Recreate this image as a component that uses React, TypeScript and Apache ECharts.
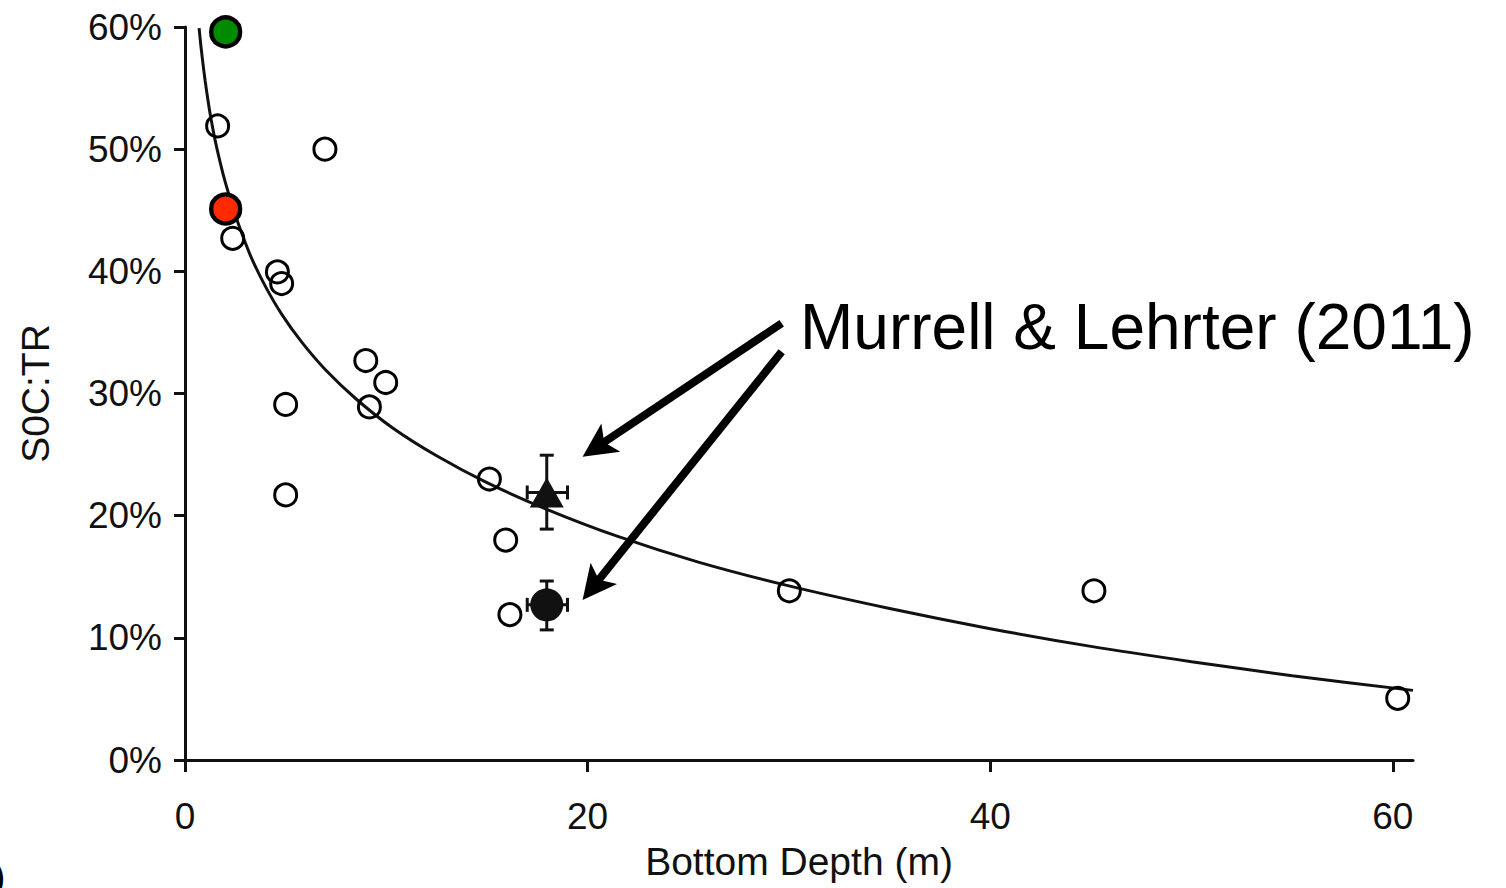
import React, { useEffect, useRef } from "react";
import * as echarts from "echarts";

// Open circles (Bottom Depth m, SOC:TR %)
const openX = [1.62, 6.95, 2.37, 4.59, 4.8, 8.98, 9.97, 5.0, 9.16, 5.0, 15.12, 15.93, 16.14, 30.02, 45.15, 60.24];
const openY = [51.9, 50.0, 42.7, 39.95, 39.0, 32.7, 30.9, 29.1, 28.9, 21.7, 23.0, 18.0, 11.9, 13.85, 13.85, 5.05];

// Highlighted points
const greenPoint = [2.02, 59.6];
const redPoint = [2.02, 45.1];

// Murrell & Lehrter (2011): [x, y, xLow, xHigh, yLow, yHigh]
const murrellTriangle = [17.97, 21.9, 17.0, 19.0, 18.9, 24.95];
const murrellCircle = [17.97, 12.7, 17.0, 19.0, 10.65, 14.65];

// Fitted curve
const curveX = [0.7, 0.8, 0.9, 1.0, 1.15, 1.3, 1.5, 1.75, 2.0, 2.4, 2.8, 3.3, 4.0, 4.8, 5.8, 7.0, 8.5, 10.3, 12.5, 15.0, 18.0, 21.5, 25.5, 30, 35, 40, 45, 50, 55, 61];
const curveY = [59.9, 58.3, 56.9, 55.6, 53.9, 52.4, 50.7, 48.9, 47.3, 45.1, 43.2, 41.1, 38.75, 36.5, 34.2, 31.9, 29.55, 27.2, 24.9, 22.7, 20.5, 18.3, 16.2, 14.25, 12.4, 10.75, 9.3, 8.05, 6.9, 5.7];

// Annotation arrows: [xFrom, yFrom, xTo, yTo]
const arrows = [
  [29.64, 35.75, 19.75, 24.83],
  [29.64, 33.42, 19.75, 13.1],
];

const xTicks = [0, 20, 40, 60];
const annotation = "Murrell & Lehrter (2011)";

export default function App() {
  const ref = useRef<HTMLDivElement>(null);

  useEffect(() => {
    const chart = echarts.init(ref.current!, null, { renderer: "svg" });
    const ink = "#111111";
    const font = '"Liberation Sans", Arial, Helvetica, sans-serif';

    const errorBarItem = (params: any, api: any) => {
      const x = api.value(0);
      const y = api.value(1);
      const top = api.coord([x, api.value(5)]);
      const bot = api.coord([x, api.value(4)]);
      const left = api.coord([api.value(2), y]);
      const right = api.coord([api.value(3), y]);
      const cap = 7;
      const style = { stroke: ink, lineWidth: 3 };
      return {
        type: "group",
        children: [
          { type: "line", shape: { x1: top[0], y1: top[1], x2: bot[0], y2: bot[1] }, style },
          { type: "line", shape: { x1: top[0] - cap, y1: top[1], x2: top[0] + cap, y2: top[1] }, style },
          { type: "line", shape: { x1: bot[0] - cap, y1: bot[1], x2: bot[0] + cap, y2: bot[1] }, style },
          { type: "line", shape: { x1: left[0], y1: left[1], x2: right[0], y2: right[1] }, style },
          { type: "line", shape: { x1: left[0], y1: left[1] - cap, x2: left[0], y2: left[1] + cap }, style },
          { type: "line", shape: { x1: right[0], y1: right[1] - cap, x2: right[0], y2: right[1] + cap }, style },
        ],
      };
    };

    const arrowItem = (params: any, api: any) => {
      const p1 = api.coord([api.value(0), api.value(1)]);
      const p2 = api.coord([api.value(2), api.value(3)]);
      const dx = p2[0] - p1[0];
      const dy = p2[1] - p1[1];
      const len = Math.sqrt(dx * dx + dy * dy);
      const ux = dx / len;
      const uy = dy / len;
      const nx = -uy;
      const ny = ux;
      const headLen = 34;
      const headHalf = 17;
      const notch = 26;
      const nPt = [p2[0] - ux * notch, p2[1] - uy * notch];
      const b1 = [p2[0] - ux * headLen + nx * headHalf, p2[1] - uy * headLen + ny * headHalf];
      const b2 = [p2[0] - ux * headLen - nx * headHalf, p2[1] - uy * headLen - ny * headHalf];
      return {
        type: "group",
        children: [
          {
            type: "line",
            shape: { x1: p1[0], y1: p1[1], x2: nPt[0] + ux * 2, y2: nPt[1] + uy * 2 },
            style: { stroke: "#000", lineWidth: 8 },
          },
          {
            type: "polygon",
            shape: { points: [p2, b1, nPt, b2] },
            style: { fill: "#000" },
          },
        ],
      };
    };

    chart.setOption({
      animation: false,
      grid: { left: 185, right: 93, top: 27, bottom: 128, containLabel: false },
      xAxis: {
        type: "value",
        min: 0,
        max: 61,
        name: "Bottom Depth (m)",
        nameLocation: "middle",
        nameGap: 82,
        nameTextStyle: { fontSize: 39, color: ink, fontFamily: font },
        axisLine: { show: true, onZero: false, lineStyle: { color: ink, width: 3 } },
        axisTick: { show: true, length: 12, lineStyle: { color: ink, width: 3 }, customValues: xTicks },
        axisLabel: { margin: 38, fontSize: 37, color: ink, fontFamily: font, customValues: xTicks },
        splitLine: { show: false },
      },
      yAxis: {
        type: "value",
        min: 0,
        max: 60,
        interval: 10,
        name: "S0C:TR",
        nameLocation: "middle",
        nameGap: 130,
        nameTextStyle: { fontSize: 39, color: ink, fontFamily: font },
        axisLine: { show: true, onZero: false, lineStyle: { color: ink, width: 3 } },
        axisTick: { show: true, length: 11, lineStyle: { color: ink, width: 3 } },
        axisLabel: { margin: 23, fontSize: 37, color: ink, fontFamily: font, formatter: "{value}%" },
        splitLine: { show: false },
      },
      series: [
        {
          type: "line",
          data: curveX.map((x, i) => [x, curveY[i]]),
          showSymbol: false,
          smooth: 0.3,
          lineStyle: { color: ink, width: 3 },
          silent: true,
          z: 2,
        },
        {
          type: "scatter",
          data: openX.map((x, i) => [x, openY[i]]),
          symbol: "circle",
          symbolSize: 22,
          itemStyle: { color: "rgba(0,0,0,0)", borderColor: "#000", borderWidth: 3, opacity: 1 },
          silent: true,
          z: 3,
        },
        {
          type: "custom",
          data: [murrellTriangle, murrellCircle],
          renderItem: errorBarItem,
          encode: { x: 0, y: 1 },
          silent: true,
          z: 4,
        },
        {
          type: "scatter",
          data: [[murrellTriangle[0], murrellTriangle[1]]],
          symbol: "triangle",
          symbolSize: [34, 30],
          itemStyle: { color: ink, opacity: 1 },
          silent: true,
          z: 5,
        },
        {
          type: "scatter",
          data: [[murrellCircle[0], murrellCircle[1]]],
          symbol: "circle",
          symbolSize: 33,
          itemStyle: { color: ink, opacity: 1 },
          silent: true,
          z: 5,
        },
        {
          type: "scatter",
          data: [greenPoint],
          symbol: "circle",
          symbolSize: 29,
          itemStyle: { color: "#008a00", borderColor: "#000", borderWidth: 4.3, opacity: 1 },
          silent: true,
          z: 6,
        },
        {
          type: "scatter",
          data: [redPoint],
          symbol: "circle",
          symbolSize: 29,
          itemStyle: { color: "#ff2a00", borderColor: "#000", borderWidth: 4.3, opacity: 1 },
          silent: true,
          z: 6,
        },
        {
          type: "custom",
          data: arrows,
          renderItem: arrowItem,
          encode: { x: [0, 2], y: [1, 3] },
          silent: true,
          z: 7,
        },
      ],
      graphic: [
        {
          type: "text",
          x: 800,
          y: 327,
          style: {
            text: annotation,
            fontSize: 64,
            fontFamily: font,
            fill: "#000",
            verticalAlign: "middle",
            align: "left",
          },
          silent: true,
        },
        {
          type: "text",
          x: -7,
          y: 876,
          style: {
            text: ")",
            fontSize: 37,
            fontFamily: font,
            fill: "#000",
            verticalAlign: "middle",
            align: "left",
          },
          silent: true,
        },
      ],
    });

    return () => chart.dispose();
  }, []);

  return (
    <div
      ref={ref}
      style={{ position: "absolute", left: 0, top: 0, width: 1506, height: 888, background: "#fff" }}
    />
  );
}
